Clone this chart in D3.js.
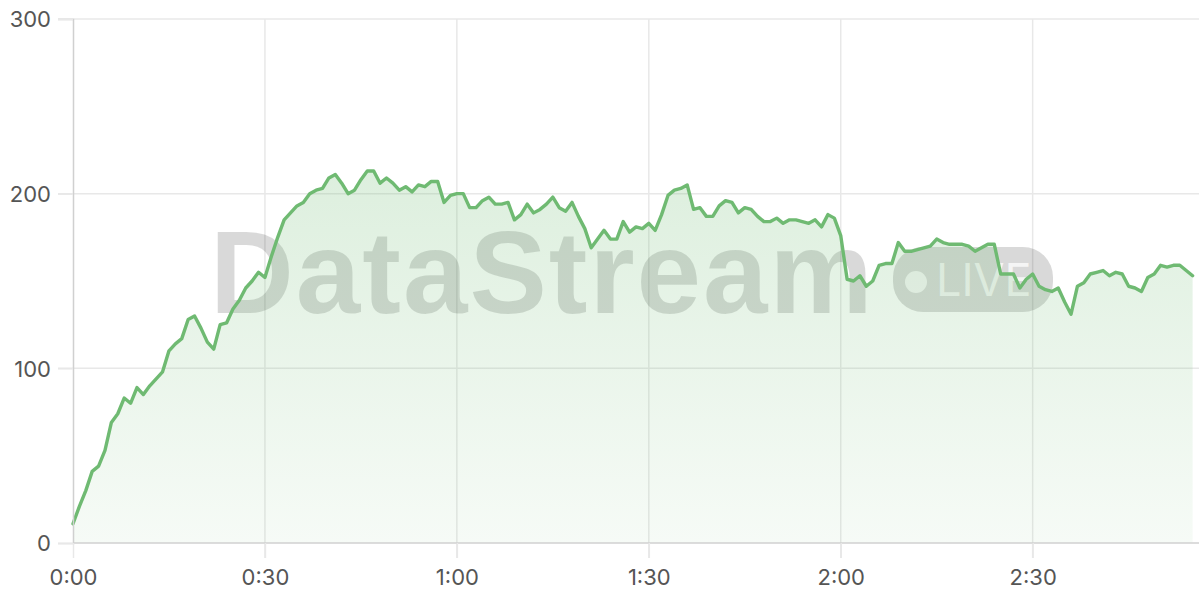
<!DOCTYPE html>
<html><head><meta charset="utf-8">
<script src="https://cdn.jsdelivr.net/npm/d3@7"></script>
<style>
html,body{margin:0;padding:0;background:#fff;}
svg{display:block;font-family:Inter,"Noto Sans",sans-serif;}
</style></head>
<body>
<svg id="chart" width="1200" height="600"></svg>
<script>
// seconds elapsed (one reading per second)
const seconds = d3.range(0, 176);
// readings per second
const values = [
 11,21,30,41,44,53,69,74,83,80, 89,85,90,94,98,110,114,117,128,130,
 123,115,111,125,126,134,139,146,150,155, 152,164,175,185,189,193,195,200,202,203,
 209,211,206,200,202,208,213,213,206,209, 206,202,204,201,205,204,207,207,195,199,
 200,200,192,192,196,198,194,194,195,185, 188,194,189,191,194,198,192,190,195,187,
 180,169,174,179,174,174,184,178,181,180, 183,179,188,199,202,203,205,191,192,187,
 187,193,196,195,189,192,191,187,184,184, 186,183,185,185,184,183,185,181,188,186,
 176,151,150,153,147,150,159,160,160,172, 167,167,168,169,170,174,172,171,171,171,
 170,167,169,171,171,154,154,154,146,151, 154,147,145,144,146,138,131,147,149,154,
 155,156,153,155,154,147,146,144,152,154, 159,158,159,159,156,153
];
const xTickValues = [0, 30, 60, 90, 120, 150];
const xTickLabels = ["0:00", "0:30", "1:00", "1:30", "2:00", "2:30"];
const yTickValues = [0, 100, 200, 300];

(function () {
const data = seconds.map((s, i) => ({t: s, v: values[i]}));

const svg = d3.select("#chart");
const pL = 73, pR = 1199, pT = 19, pB = 543;

const x = d3.scaleLinear().domain([0, 176]).range([pL, pR]);
const y = d3.scaleLinear().domain([0, 300]).range([pB, pT]);

// gradient
const defs = svg.append("defs");
const grad = defs.append("linearGradient").attr("id", "areaGrad")
  .attr("gradientUnits", "userSpaceOnUse")
  .attr("x1", 0).attr("x2", 0).attr("y1", pT).attr("y2", pB);
grad.append("stop").attr("offset", "0%").attr("stop-color", "#6cba70").attr("stop-opacity", 0.3);
grad.append("stop").attr("offset", "100%").attr("stop-color", "#6cba70").attr("stop-opacity", 0.06);

// grid
const gGrid = svg.append("g");
gGrid.selectAll("line.h").data(yTickValues.filter(d => d > 0)).join("line")
  .attr("x1", pL - 15).attr("x2", pR)
  .attr("y1", d => y(d)).attr("y2", d => y(d))
  .attr("stroke", "#e8e8e8").attr("stroke-width", 1.5);
gGrid.selectAll("line.v").data(xTickValues.filter(d => d > 0)).join("line")
  .attr("x1", d => x(d)).attr("x2", d => x(d))
  .attr("y1", pT).attr("y2", pB + 15)
  .attr("stroke", "#e8e8e8").attr("stroke-width", 1.5);

// watermark
const wm = svg.append("g");
wm.append("text").attr("x", 210).attr("y", 313)
  .attr("font-family", "'Liberation Sans', Arial, sans-serif").attr("font-weight", "bold")
  .attr("font-size", 116).attr("letter-spacing", 2)
  .attr("fill", "rgba(0,0,0,0.15)").text("DataStream");
wm.append("rect").attr("x", 893).attr("y", 247).attr("width", 160).attr("height", 65)
  .attr("rx", 30).attr("fill", "rgba(0,0,0,0.15)");
wm.append("circle").attr("cx", 916).attr("cy", 282).attr("r", 11).attr("fill", "rgba(255,255,255,0.75)");
wm.append("text").attr("x", 936).attr("y", 296)
  .attr("font-family", "Inter, 'Noto Sans', sans-serif")
  .attr("font-size", 45).attr("fill", "rgba(255,255,255,0.75)").text("LIVE");

// area + line
svg.append("path").datum(data)
  .attr("d", d3.area().x(d => x(d.t)).y0(pB).y1(d => y(d.v)))
  .attr("fill", "url(#areaGrad)");
svg.append("path").datum(data)
  .attr("d", d3.line().x(d => x(d.t)).y(d => y(d.v)))
  .attr("fill", "none").attr("stroke", "#6fba72").attr("stroke-width", 3.4)
  .attr("stroke-linejoin", "round").attr("stroke-linecap", "round");

// axes
const yAxis = svg.append("g").attr("transform", `translate(${pL},0)`)
  .call(d3.axisLeft(y).tickValues(yTickValues).tickSize(15).tickPadding(7));
yAxis.select(".domain").attr("stroke", "#d0d0d0").attr("stroke-width", 1.5);
yAxis.selectAll(".tick line").attr("stroke", "#e8e8e8").attr("stroke-width", 1.5);
yAxis.selectAll(".tick text").attr("font-size", 22).attr("fill", "#555")
  .attr("font-family", "Inter, 'Noto Sans', sans-serif").attr("dy", "0.35em");

const xAxis = svg.append("g").attr("transform", `translate(0,${pB})`)
  .call(d3.axisBottom(x).tickValues(xTickValues).tickFormat((d, i) => xTickLabels[i]).tickSize(15).tickPadding(11));
xAxis.select(".domain").attr("stroke", "#d0d0d0").attr("stroke-width", 1.5).attr("d", `M${pL},0H${pR}`);
xAxis.selectAll(".tick line").attr("stroke", "#e8e8e8").attr("stroke-width", 1.5);
xAxis.selectAll(".tick text").attr("font-size", 22).attr("fill", "#555")
  .attr("font-family", "Inter, 'Noto Sans', sans-serif");
})();
</script>
</body></html>
